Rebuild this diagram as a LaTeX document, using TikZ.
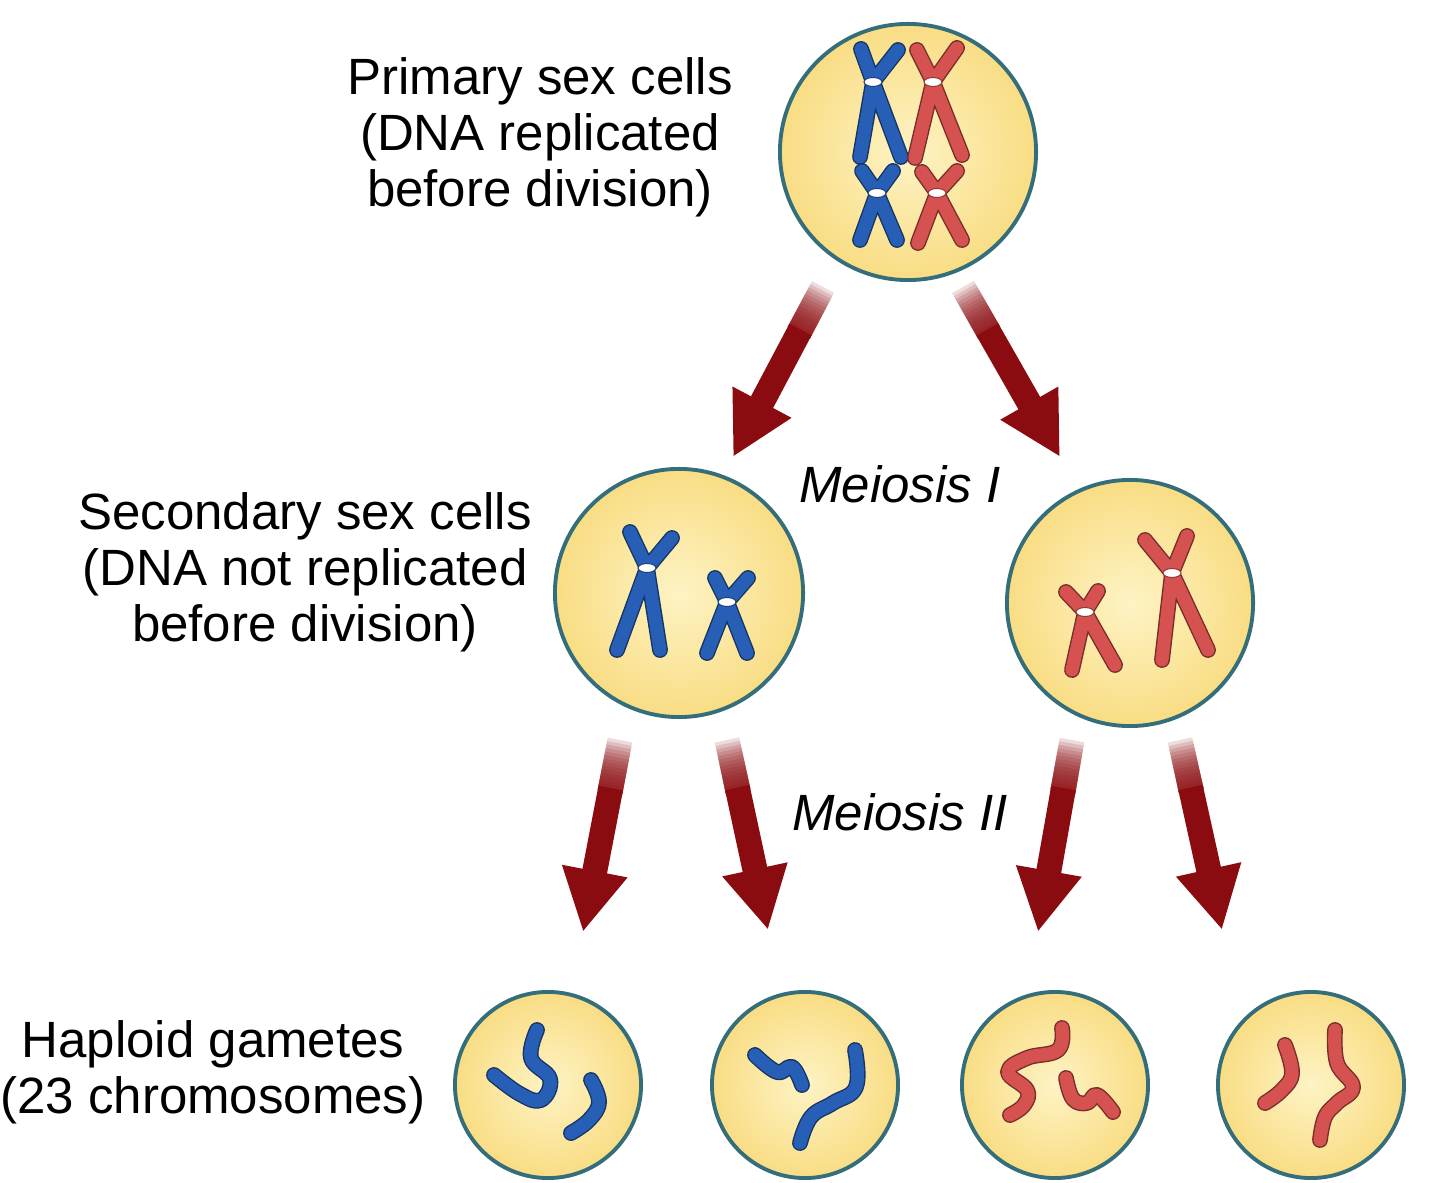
\documentclass[tikz,border=0pt]{standalone}
\usepackage{fontspec}
\setmainfont{Liberation Sans}
\usetikzlibrary{calc,arrows.meta}

\definecolor{chromblue}{RGB}{40,95,182}
\definecolor{chromred}{RGB}{214,82,80}
\definecolor{arrowred}{RGB}{139,12,16}
\definecolor{cellin}{RGB}{253,243,196}
\definecolor{cellout}{RGB}{249,221,132}
\definecolor{celledge}{RGB}{52,110,122}

% chromosome: colour, centromere, two upper tips, two lower ends
\newcommand{\chromo}[6]{%
  \draw[arm, draw=#1!55!black, line width=0.158cm] (#3) -- (#2) -- (#5) (#4) -- (#2) -- (#6);
  \draw[arm, draw=#1, line width=0.13cm] (#3) -- (#2) -- (#5) (#4) -- (#2) -- (#6);
  \filldraw[draw=#1!70!black, fill=white, line width=0.3pt] (#2) ellipse [x radius=0.09cm, y radius=0.045cm];
}
% single chromatid in a gamete
\newcommand{\worm}[2]{%
  \draw[wormline, draw=#1!55!black, double=#1] plot[smooth, tension=0.7] coordinates {#2};
}
% division arrow, faded at its start
\newcommand{\meioarrow}[2]{%
  \foreach \f in {0,0.018,...,0.235}
    \draw[shaft, opacity=0.15] ($(#1)!\f!(#2)$) -- ($(#1)!0.27!(#2)$);
  \draw[shaft, -{Triangle[width=0.62cm, length=0.62cm]}] ($(#1)!0.25!(#2)$) -- (#2);
}

\begin{document}
\begin{tikzpicture}[x=0.01cm, y=-0.01cm,
    cell/.style={circle, draw=celledge, line width=1.1pt, inner color=cellin, outer color=cellout, inner sep=0pt},
    arm/.style={line cap=round, line join=round},
    wormline/.style={line width=0.4pt, double distance=0.13cm, line cap=round, line join=round},
    shaft/.style={draw=arrowred, line width=0.25cm},
    txt/.style={font=\fontsize{14.5pt}{15.9pt}\selectfont, align=center, inner sep=0pt}]
    \useasboundingbox (0,0) rectangle (1440,1183);

    % cells
    \node[cell, minimum size=2.56cm] (top) at (908,152) {};
    \node[cell, minimum size=2.48cm] (secL) at (679,593) {};
    \node[cell, minimum size=2.46cm] (secR) at (1130,603) {};
    \node[cell, minimum size=1.86cm] (g1) at (548,1085) {};
    \node[cell, minimum size=1.86cm] (g2) at (805,1085) {};
    \node[cell, minimum size=1.86cm] (g3) at (1055,1085) {};
    \node[cell, minimum size=1.86cm] (g4) at (1311,1085) {};

    % labels
    \node[txt] (primary) at (540,137) {Primary sex cells\\(DNA replicated\\before division)};
    \node[txt] (secondary) at (305,572) {Secondary sex cells\\(DNA not replicated\\before division)};
    \node[txt] (haploid) at (213,1072) {Haploid gametes\\(23 chromosomes)};
    \node[txt] (meiosisI) at (900,484) {\itshape Meiosis I};
    \node[txt] (meiosisII) at (900,812) {\itshape Meiosis II};

    % chromosomes
    \chromo{chromblue}{873,82}{861,49}{898,50}{860,157}{901,157}
    \chromo{chromred}{933,82}{917,50}{957,48}{915,158}{962,155}
    \chromo{chromblue}{877,193}{862,171}{893,171}{860,240}{897,240}
    \chromo{chromred}{937,193}{922,172}{957,171}{918,243}{962,240}
    \chromo{chromblue}{647,568}{630,532}{672,538}{617,650}{660,650}
    \chromo{chromblue}{727,602}{715,578}{748,578}{707,653}{747,653}
    \chromo{chromred}{1085,612}{1066,592}{1098,591}{1072,670}{1115,665}
    \chromo{chromred}{1172,573}{1145,540}{1187,536}{1162,660}{1208,650}

    \worm{chromblue}{(537,1030) (531,1058) (550,1079) (541,1100) (520,1094) (494,1075)}
    \worm{chromblue}{(591,1080) (599,1102) (589,1120) (571,1133)}
    \worm{chromblue}{(755,1055) (777,1072) (792,1067) (802,1085)}
    \worm{chromblue}{(855,1050) (856,1087) (833,1103) (811,1117) (800,1143)}
    \worm{chromred}{(1062,1028) (1058,1050) (1027,1058) (1008,1072) (1027,1090) (1024,1105) (1010,1115)}
    \worm{chromred}{(1066,1078) (1073,1099) (1087,1103) (1097,1095) (1113,1112)}
    \worm{chromred}{(1285,1045) (1292,1073) (1282,1090) (1265,1103)}
    \worm{chromred}{(1335,1030) (1337,1063) (1353,1087) (1337,1103) (1325,1117) (1320,1140)}

    % arrows
    \meioarrow{$(top)+(-85,135)$}{$(secL)+(54,-136)$}
    \meioarrow{$(top)+(55,135)$}{$(secR)+(-70,-146)$}
    \meioarrow{$(secL)+(-59,147)$}{$(g1)+(35,-153)$}
    \meioarrow{$(secL)+(48,147)$}{$(g2)+(-37,-155)$}
    \meioarrow{$(secR)+(-58,137)$}{$(g3)+(-17,-153)$}
    \meioarrow{$(secR)+(50,137)$}{$(g4)+(-89,-155)$}
\end{tikzpicture}
\end{document}
